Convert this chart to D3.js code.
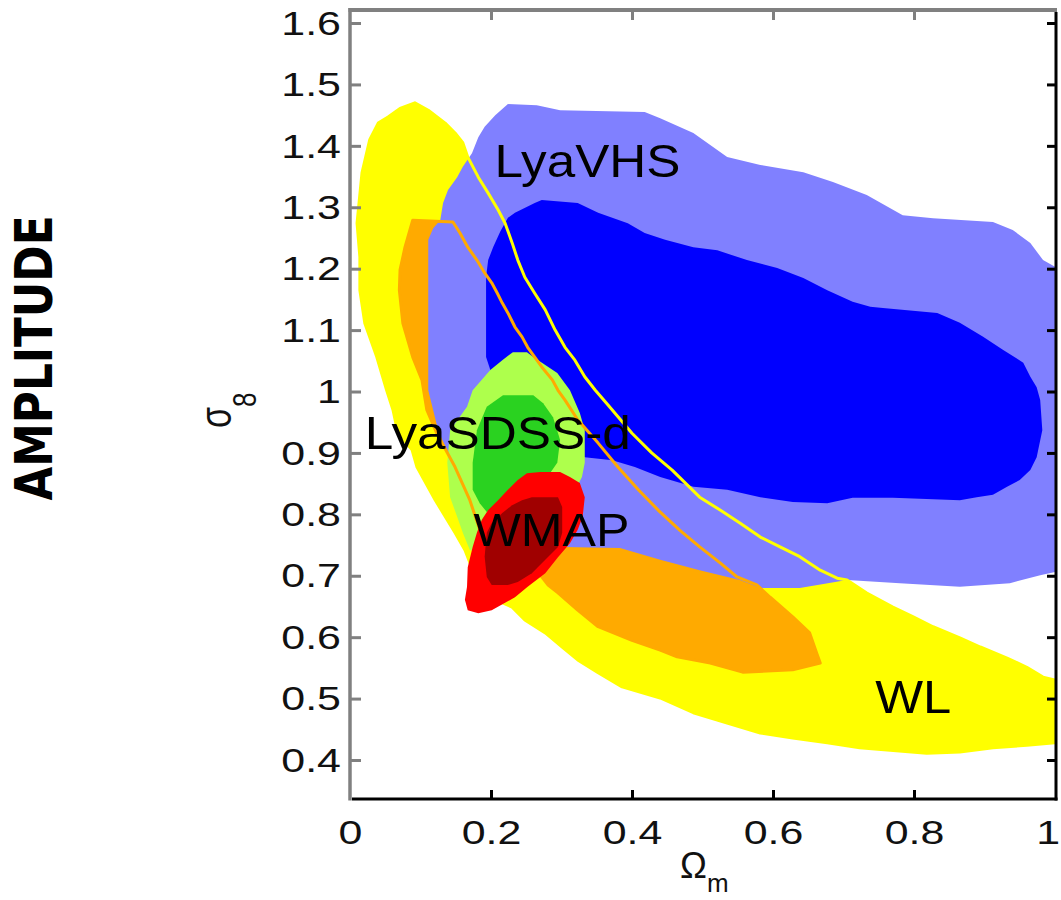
<!DOCTYPE html>
<html>
<head>
<meta charset="utf-8">
<script src="https://cdn.jsdelivr.net/npm/d3@7"></script>
<style>
  html, body { margin: 0; padding: 0; background: #ffffff; }
  svg { display: block; }
</style>
</head>
<body>
<svg id="chart" width="1061" height="900"></svg>
<script>
// ---------------- data (Omega_m, sigma_8) ----------------
const xTicks = [0, 0.2, 0.4, 0.6, 0.8, 1];
const yTicks = [0.4, 0.5, 0.6, 0.7, 0.8, 0.9, 1.0, 1.1, 1.2, 1.3, 1.4, 1.5, 1.6];
const xDomain = [0, 1];
const yDomain = [0.3365, 1.6212];

// Weak lensing, 2-sigma (yellow)
const wlOuter = [
  [0.092,1.470],[0.111,1.458],[0.135,1.437],[0.149,1.421],[0.160,1.405],[0.167,1.382],
  [0.182,1.349],[0.196,1.323],[0.210,1.296],[0.220,1.274],[0.230,1.242],[0.238,1.214],
  [0.248,1.186],[0.262,1.160],[0.277,1.133],[0.291,1.100],[0.305,1.072],[0.319,1.051],
  [0.333,1.024],[0.348,1.002],[0.366,0.978],[0.400,0.932],[0.428,0.900],[0.457,0.872],
  [0.496,0.828],[0.525,0.807],[0.553,0.786],[0.582,0.763],[0.610,0.747],[0.638,0.731],
  [0.667,0.709],[0.691,0.696],[0.705,0.693],[0.733,0.672],[0.770,0.649],[0.799,0.633],
  [0.827,0.617],[0.865,0.599],[0.894,0.584],[0.932,0.566],[0.960,0.551],[0.983,0.535],
  [1.000,0.530],[1.000,0.428],[0.960,0.424],[0.912,0.420],[0.865,0.413],[0.818,0.411],
  [0.723,0.420],[0.677,0.428],[0.628,0.436],[0.582,0.444],[0.535,0.460],[0.487,0.477],
  [0.440,0.501],[0.386,0.519],[0.352,0.542],[0.323,0.563],[0.301,0.584],[0.277,0.607],
  [0.248,0.628],[0.230,0.649],[0.206,0.661],[0.177,0.701],[0.163,0.742],[0.149,0.770],
  [0.121,0.823],[0.095,0.877],[0.088,0.905],[0.068,0.932],[0.061,0.970],[0.052,1.002],
  [0.038,1.056],[0.021,1.111],[0.014,1.165],[0.014,1.219],[0.010,1.274],[0.017,1.356],
  [0.028,1.410],[0.040,1.437],[0.054,1.447],[0.071,1.461]
];

// Weak lensing, 1-sigma (orange)
const wlInner = [
  [0.089,1.279],[0.146,1.276],[0.156,1.258],[0.167,1.235],[0.180,1.214],[0.191,1.193],
  [0.201,1.177],[0.209,1.160],[0.216,1.144],[0.224,1.128],[0.234,1.105],[0.244,1.089],
  [0.252,1.072],[0.262,1.056],[0.272,1.040],[0.287,1.019],[0.295,1.002],[0.305,0.986],
  [0.323,0.954],[0.352,0.916],[0.380,0.877],[0.409,0.840],[0.437,0.807],[0.468,0.774],
  [0.496,0.747],[0.525,0.721],[0.549,0.698],[0.577,0.685],[0.596,0.665],[0.628,0.633],
  [0.652,0.607],[0.662,0.574],[0.667,0.558],[0.628,0.547],[0.557,0.543],[0.511,0.558],
  [0.464,0.568],[0.440,0.579],[0.400,0.595],[0.352,0.617],[0.323,0.644],[0.295,0.672],
  [0.281,0.685],[0.270,0.701],[0.227,0.726],[0.184,0.775],[0.170,0.823],[0.149,0.877],
  [0.123,0.932],[0.109,0.970],[0.102,1.019],[0.089,1.056],[0.075,1.111],[0.070,1.165],
  [0.071,1.198],[0.078,1.235],[0.085,1.263]
];

// Lyman-alpha VHS, 2-sigma (lavender)
const vhsOuter = [
  [0.111,1.002],[0.111,1.247],[0.118,1.266],[0.128,1.279],[0.132,1.307],[0.139,1.328],
  [0.152,1.349],[0.160,1.366],[0.173,1.388],[0.182,1.414],[0.191,1.431],[0.206,1.450],
  [0.224,1.468],[0.265,1.466],[0.298,1.458],[0.418,1.455],[0.440,1.445],[0.487,1.421],
  [0.535,1.382],[0.582,1.369],[0.643,1.357],[0.685,1.341],[0.733,1.320],[0.784,1.287],
  [0.827,1.282],[0.912,1.276],[0.940,1.263],[0.965,1.242],[0.983,1.214],[1.000,1.203],
  [1.000,0.706],[0.979,0.701],[0.936,0.688],[0.865,0.682],[0.780,0.688],[0.705,0.693],
  [0.638,0.680],[0.582,0.680],[0.553,0.693],[0.496,0.709],[0.440,0.726],[0.383,0.745],
  [0.301,0.747],[0.199,0.742],[0.170,0.791],[0.149,0.872],[0.125,0.937]
];

// Lyman-alpha VHS, 1-sigma (blue)
const vhsInner = [
  [0.193,1.056],[0.193,1.186],[0.196,1.214],[0.203,1.235],[0.213,1.260],[0.224,1.283],
  [0.234,1.291],[0.262,1.307],[0.272,1.312],[0.323,1.307],[0.352,1.291],[0.372,1.283],
  [0.394,1.274],[0.418,1.258],[0.447,1.247],[0.487,1.235],[0.521,1.230],[0.563,1.214],
  [0.606,1.201],[0.643,1.185],[0.677,1.165],[0.713,1.146],[0.738,1.138],[0.756,1.136],
  [0.833,1.128],[0.865,1.112],[0.898,1.089],[0.926,1.068],[0.955,1.047],[0.965,1.024],
  [0.974,1.007],[0.979,0.986],[0.982,0.937],[0.974,0.893],[0.965,0.872],[0.950,0.856],
  [0.932,0.845],[0.912,0.832],[0.889,0.828],[0.865,0.823],[0.770,0.827],[0.713,0.827],
  [0.677,0.818],[0.628,0.820],[0.582,0.828],[0.535,0.840],[0.487,0.845],[0.440,0.861],
  [0.404,0.877],[0.372,0.888],[0.333,0.893],[0.270,0.921],[0.213,0.986]
];

// Lyman-alpha SDSS, 2-sigma (light green)
const sdssOuter = [
  [0.231,1.064],[0.251,1.064],[0.260,1.056],[0.294,1.030],[0.312,1.002],[0.326,0.965],
  [0.333,0.937],[0.333,0.884],[0.329,0.861],[0.298,0.791],[0.213,0.726],[0.170,0.742],
  [0.160,0.770],[0.152,0.796],[0.142,0.828],[0.138,0.884],[0.142,0.937],[0.166,0.975],
  [0.174,1.002],[0.199,1.035],[0.216,1.051]
];

// Lyman-alpha SDSS, 1-sigma (green)
const sdssInner = [
  [0.217,0.994],[0.260,0.994],[0.274,0.981],[0.288,0.958],[0.298,0.921],[0.294,0.884],
  [0.277,0.856],[0.227,0.823],[0.194,0.804],[0.184,0.818],[0.174,0.840],[0.174,0.884],
  [0.180,0.937],[0.194,0.975]
];

// WMAP, 2-sigma (red)
const wmapOuter = [
  [0.251,0.867],[0.270,0.869],[0.298,0.869],[0.312,0.861],[0.326,0.851],[0.333,0.828],
  [0.330,0.796],[0.323,0.775],[0.312,0.753],[0.295,0.730],[0.277,0.704],[0.252,0.682],
  [0.234,0.665],[0.220,0.656],[0.201,0.644],[0.182,0.639],[0.167,0.644],[0.163,0.661],
  [0.166,0.682],[0.167,0.714],[0.174,0.747],[0.180,0.770],[0.187,0.791],[0.196,0.807],
  [0.210,0.823],[0.224,0.840],[0.238,0.856]
];

// WMAP, 1-sigma (dark red)
const wmapInner = [
  [0.258,0.828],[0.295,0.828],[0.301,0.812],[0.301,0.770],[0.295,0.747],[0.277,0.726],
  [0.258,0.704],[0.238,0.690],[0.224,0.685],[0.201,0.685],[0.194,0.698],[0.191,0.731],
  [0.194,0.770],[0.201,0.786],[0.216,0.802],[0.230,0.815],[0.244,0.823]
];

// Region labels
const labelNames = ["LyaVHS", "LyaSDSS-d", "WMAP", "WL"];
const labelPos = [[0.205, 1.349], [0.021, 0.906], [0.175, 0.748], [0.745, 0.477]];

// ---------------- drawing ----------------
(function () {
const svg = d3.select("#chart");
const W = 1061, H = 900;
svg.append("rect").attr("width", W).attr("height", H).attr("fill", "#ffffff");

const pL = 350, pR = 1055, pT = 10, pB = 799;
const x = d3.scaleLinear().domain(xDomain).range([pL, pR]);
const y = d3.scaleLinear().domain(yDomain).range([pB, pT]);

svg.append("clipPath").attr("id", "plotclip")
  .append("rect").attr("x", pL).attr("y", pT)
  .attr("width", pR - pL).attr("height", pB - pT);

const line = d3.line().x(d => x(d[0])).y(d => y(d[1])).curve(d3.curveLinearClosed);
const g = svg.append("g").attr("clip-path", "url(#plotclip)");

function fillRegion(data, color) {
  g.append("path").attr("d", line(data)).attr("fill", color).attr("stroke", "none");
}
function outlineRegion(data, color) {
  g.append("path").attr("d", line(data)).attr("fill", "none")
    .attr("stroke", color).attr("stroke-width", 3).attr("stroke-linejoin", "round");
}

fillRegion(wlOuter, "#ffff00");
fillRegion(wlInner, "#ffaa00");
fillRegion(vhsOuter, "#8080ff");
fillRegion(vhsInner, "#0000ff");
fillRegion(sdssOuter, "#aeff4c");
fillRegion(sdssInner, "#2ad220");
outlineRegion(wlOuter, "#ffff00");
outlineRegion(wlInner, "#ffaa00");
fillRegion(wmapOuter, "#ff0000");
fillRegion(wmapInner, "#a00000");

// labels
const fontSans = "'Liberation Sans', Arial, Helvetica, sans-serif";
const labelLen = [186, 266, 156, 76];
labelNames.forEach((name, i) => {
  svg.append("text")
    .attr("x", x(labelPos[i][0])).attr("y", y(labelPos[i][1]))
    .attr("font-family", fontSans).attr("font-size", 46)
    .attr("textLength", labelLen[i]).attr("lengthAdjust", "spacingAndGlyphs")
    .attr("fill", "#000").text(name);
});

// axes
const fmt = d => String(+d.toFixed(1));
const gray = "#808080";

const yAxisL = svg.append("g").attr("transform", `translate(${pL},0)`)
  .call(d3.axisLeft(y).tickValues(yTicks).tickSize(-11).tickFormat(fmt));
const yAxisR = svg.append("g").attr("transform", `translate(${pR},0)`)
  .call(d3.axisRight(y).tickValues(yTicks).tickSize(-8).tickFormat(""));
const xAxisB = svg.append("g").attr("transform", `translate(0,${pB})`)
  .call(d3.axisBottom(x).tickValues(xTicks).tickSize(-9).tickFormat(fmt));
const xAxisT = svg.append("g").attr("transform", `translate(0,${pT})`)
  .call(d3.axisTop(x).tickValues(xTicks).tickSize(-10).tickFormat(""));

[yAxisL, yAxisR, xAxisB, xAxisT].forEach(a => a.select(".domain").remove());
yAxisL.selectAll(".tick line").attr("stroke", gray).attr("stroke-width", 3);
xAxisT.selectAll(".tick line").attr("stroke", gray).attr("stroke-width", 3);
yAxisR.selectAll(".tick line").attr("stroke", "#000").attr("stroke-width", 3);
xAxisB.selectAll(".tick line").attr("stroke", "#000").attr("stroke-width", 3);
xAxisB.selectAll(".tick").filter(d => d === 0 || d === 1).select("line").remove();
xAxisT.selectAll(".tick").filter(d => d === 0 || d === 1).select("line").remove();

yAxisL.selectAll(".tick text")
  .attr("x", -7).attr("dy", "0.34em")
  .attr("transform", "scale(1.3,1)")
  .attr("font-family", fontSans).attr("font-size", 33).attr("fill", "#111");
xAxisB.selectAll(".tick text")
  .attr("y", 22).attr("dy", "0.71em")
  .attr("transform", "scale(1.3,1)")
  .attr("font-family", fontSans).attr("font-size", 33).attr("fill", "#111");
// keep the last label inside the page
xAxisB.selectAll(".tick").filter(d => d === 1).select("text")
  .attr("text-anchor", "end").attr("x", 3.5);

// frame
svg.append("line").attr("x1", pL).attr("x2", pL).attr("y1", pT - 2).attr("y2", pB + 1.5)
  .attr("stroke", gray).attr("stroke-width", 3.5);
svg.append("line").attr("x1", pL - 1.5).attr("x2", pR + 2).attr("y1", pT).attr("y2", pT)
  .attr("stroke", gray).attr("stroke-width", 4);
svg.append("line").attr("x1", pR + 1).attr("x2", pR + 1).attr("y1", pT + 2).attr("y2", pB + 1.5)
  .attr("stroke", "#000").attr("stroke-width", 3);
svg.append("line").attr("x1", pL + 2).attr("x2", pR + 2.5).attr("y1", pB).attr("y2", pB)
  .attr("stroke", "#000").attr("stroke-width", 3);

// x axis title: Omega_m
const xt = svg.append("text")
  .attr("x", 680).attr("y", 878)
  .attr("font-family", fontSans).attr("font-size", 36).attr("fill", "#111");
xt.append("tspan").text("Ω");
xt.append("tspan").attr("font-size", 26).attr("dy", 14).text("m");

// y axis title: sigma_8 (rotated)
const yt = svg.append("text")
  .attr("transform", "translate(231,428) scale(1.3,1) rotate(-90)")
  .attr("font-family", fontSans).attr("font-size", 34).attr("fill", "#111");
yt.append("tspan").text("σ");
yt.append("tspan").attr("font-size", 26).attr("dy", 19).text("8");

// AMPLITUDE
svg.append("text")
  .attr("transform", "translate(52,358) scale(1.3,1) rotate(-90)")
  .attr("text-anchor", "middle")
  .attr("font-family", "'DejaVu Sans', sans-serif").attr("font-weight", "bold")
  .attr("font-size", 40).attr("textLength", 285).attr("lengthAdjust", "spacingAndGlyphs")
  .attr("fill", "#000").text("AMPLITUDE");
})();
</script>
</body>
</html>
